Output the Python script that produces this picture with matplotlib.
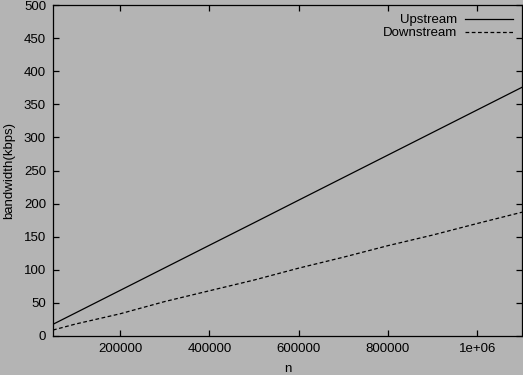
import matplotlib
matplotlib.use("Agg")
import matplotlib.pyplot as plt

n = [50000, 100000, 200000, 300000, 400000, 500000, 600000, 700000, 800000, 900000, 1000000, 1100000]
upstream = [17.7, 34.7, 68.8, 102.9, 137.0, 171.0, 205.2, 239.3, 273.4, 307.5, 341.6, 375.7]
downstream = [9.0, 18.0, 33.5, 52.0, 68.3, 84.5, 102.5, 119.0, 136.5, 152.5, 170.0, 187.0]

xticks = [200000, 400000, 600000, 800000, 1000000]
xticklabels = ["200000", "400000", "600000", "800000", "1e+06"]
yticks = [0, 50, 100, 150, 200, 250, 300, 350, 400, 450, 500]

plt.rcParams['font.family'] = ['Liberation Sans', 'DejaVu Sans']
bg = '#b4b4b4'
fig = plt.figure(figsize=(5.23, 3.75), dpi=100, facecolor=bg)
ax = fig.add_axes([53/523, (375-336)/375, 469/523, 331/375], facecolor=bg)

ax.plot(n, upstream, color='black', lw=0.9, label='Upstream')
ax.plot(n, downstream, color='black', lw=0.9, dashes=(3, 2), label='Downstream')

ax.set_xlim(50000, 1100000)
ax.set_ylim(0, 500)
ax.set_xticks(xticks)
ax.set_xticklabels(xticklabels)
ax.set_yticks(yticks)
ax.tick_params(direction='in', top=True, right=True, length=4, width=0.9, labelsize=9.5, pad=5, colors='black')
for s in ax.spines.values():
    s.set_linewidth(0.9)
ax.set_xlabel('n', fontsize=9.5, labelpad=6)
ax.set_ylabel('bandwidth(kbps)', fontsize=9.5, labelpad=6)

leg = ax.legend(loc='upper right', frameon=False, markerfirst=False, fontsize=9.5,
                handlelength=3.6, labelspacing=0.05, borderaxespad=0.3, handletextpad=0.6)

fig.savefig('out.png', dpi=100, facecolor=bg)
